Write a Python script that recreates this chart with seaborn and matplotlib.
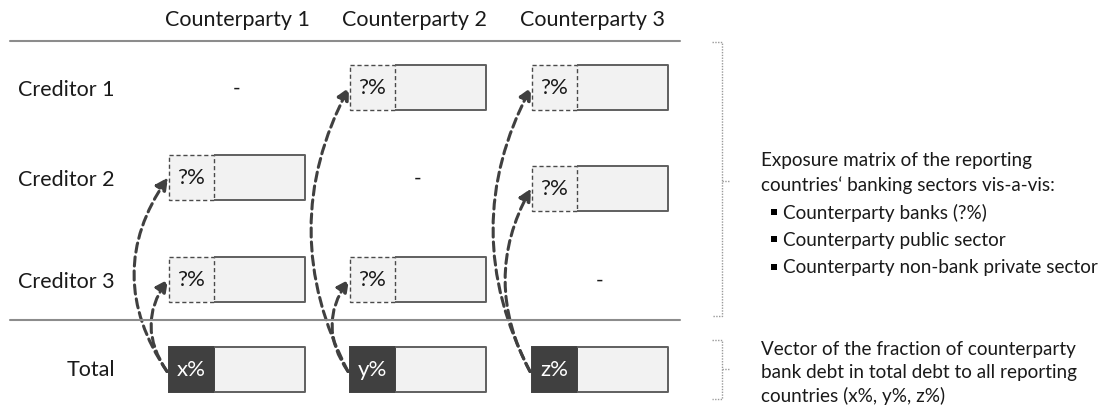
import seaborn as sns
import matplotlib.pyplot as plt
from matplotlib.patches import Rectangle, FancyArrowPatch

counterparties = ["Counterparty 1", "Counterparty 2", "Counterparty 3"]
creditors = ["Creditor 1", "Creditor 2", "Creditor 3"]
# rows = creditors, columns = counterparties
exposure = [["-", "?%", "?%"],
            ["?%", "-", "?%"],
            ["?%", "?%", "-"]]
totals = ["x%", "y%", "z%"]
matrix_note = ["Exposure matrix of the reporting",
               "countries\u2018 banking sectors vis-a-vis:"]
matrix_bullets = ["Counterparty banks (?%)",
                  "Counterparty public sector",
                  "Counterparty non-bank private sector"]
vector_note = ["Vector of the fraction of counterparty",
               "bank debt in total debt to all reporting",
               "countries (x%, y%, z%)"]

sns.set_theme(style="white")
plt.rcParams['font.family'] = ['Lato', 'DejaVu Sans']

fig = plt.figure(figsize=(11.09, 4.10), dpi=100)
ax = fig.add_axes([0, 0, 1, 1])
ax.set_xlim(0, 1109)
ax.set_ylim(410, 0)
ax.axis('off')

# layout (pixels)
col_x = [169, 350, 532]
head_x = [237, 414, 592]
row_y = [66, 156, 258]
total_y = 348
shift = {(1, 2): 11}
# how far each arrow bows out to the left
bulge = {(1, 0): 33, (2, 0): 16, (0, 1): 37, (2, 1): 16, (0, 2): 37, (1, 2): 25}
box_w, box_h, part_w = 136, 45, 45
txt = '#1a1a1a'
edge = '#5f5f5f'
dark = '#404040'

ax.plot([10, 680], [42, 42], color='#8c8c8c', lw=1.5)
ax.plot([10, 680], [321, 321], color='#8c8c8c', lw=1.5)

for j, name in enumerate(counterparties):
    ax.text(head_x[j], 20, name, ha='center', va='center', fontsize=15.5, color=txt)

for i, name in enumerate(creditors):
    ax.text(115, row_y[i] + box_h / 2 + 2, name, ha='right', va='center', fontsize=15.5, color=txt)
ax.text(115, total_y + box_h / 2, "Total", ha='right', va='center', fontsize=15.5, color=txt)


def draw_box(x, y, label, filled):
    ax.add_patch(Rectangle((x, y), box_w, box_h, facecolor='#f2f2f2', edgecolor='none'))
    ax.plot([x + part_w, x + box_w, x + box_w, x + part_w], [y, y, y + box_h, y + box_h],
            color=edge, lw=1.4, solid_capstyle='butt')
    if filled:
        ax.add_patch(Rectangle((x, y), part_w, box_h, facecolor=dark, edgecolor=dark, lw=1.4))
        ax.text(x + part_w / 2, y + box_h / 2, label, ha='center', va='center', fontsize=16, color='white')
    else:
        ax.add_patch(Rectangle((x, y), part_w, box_h, facecolor='none', edgecolor='#4a4a4a',
                               lw=1.0, linestyle=(0, (3, 2))))
        ax.text(x + part_w / 2, y + box_h / 2, label, ha='center', va='center', fontsize=16, color=txt)


for j in range(len(counterparties)):
    x0 = col_x[j]
    draw_box(x0, total_y, totals[j], True)
    start = (x0 - 2, total_y + box_h / 2 + 2)
    for i in range(len(creditors)):
        y0 = row_y[i] + shift.get((i, j), 0)
        val = exposure[i][j]
        if val == "-":
            ax.text(x0 + box_w / 2, y0 + box_h / 2, val, ha='center', va='center', fontsize=15, color=txt)
            continue
        draw_box(x0, y0, val, False)
        end = (x0 - 1, y0 + box_h / 2)
        span = start[1] - end[1]
        rad = -2 * bulge[(i, j)] / span
        ax.add_patch(FancyArrowPatch(start, end, connectionstyle=f"arc3,rad={rad:.3f}",
                                     arrowstyle='-|>', mutation_scale=18, lw=2.2,
                                     linestyle=(0, (3, 1.6)), color=dark,
                                     shrinkA=0, shrinkB=0))


def bracket(top, bottom, mid):
    kw = dict(color='#9a9a9a', lw=1.0, linestyle=(0, (1, 1)))
    ax.plot([712, 722, 722, 712], [top, top, bottom, bottom], **kw)
    ax.plot([722, 730], [mid, mid], **kw)


bracket(43, 317, 182)
bracket(341, 400, 370)

note_size = 13.6
for k, line in enumerate(matrix_note):
    ax.text(761, 161 + 24 * k, line, ha='left', va='center', fontsize=note_size, color=txt)
for k, line in enumerate(matrix_bullets):
    yb = 213 + 27.5 * k
    ax.add_patch(Rectangle((771, yb - 3.5), 6, 6, facecolor='black', edgecolor='none'))
    ax.text(783, yb, line, ha='left', va='center', fontsize=note_size, color=txt)
for k, line in enumerate(vector_note):
    ax.text(761, 350 + 23 * k, line, ha='left', va='center', fontsize=note_size, color=txt)

fig.savefig("out.png", dpi=100)
